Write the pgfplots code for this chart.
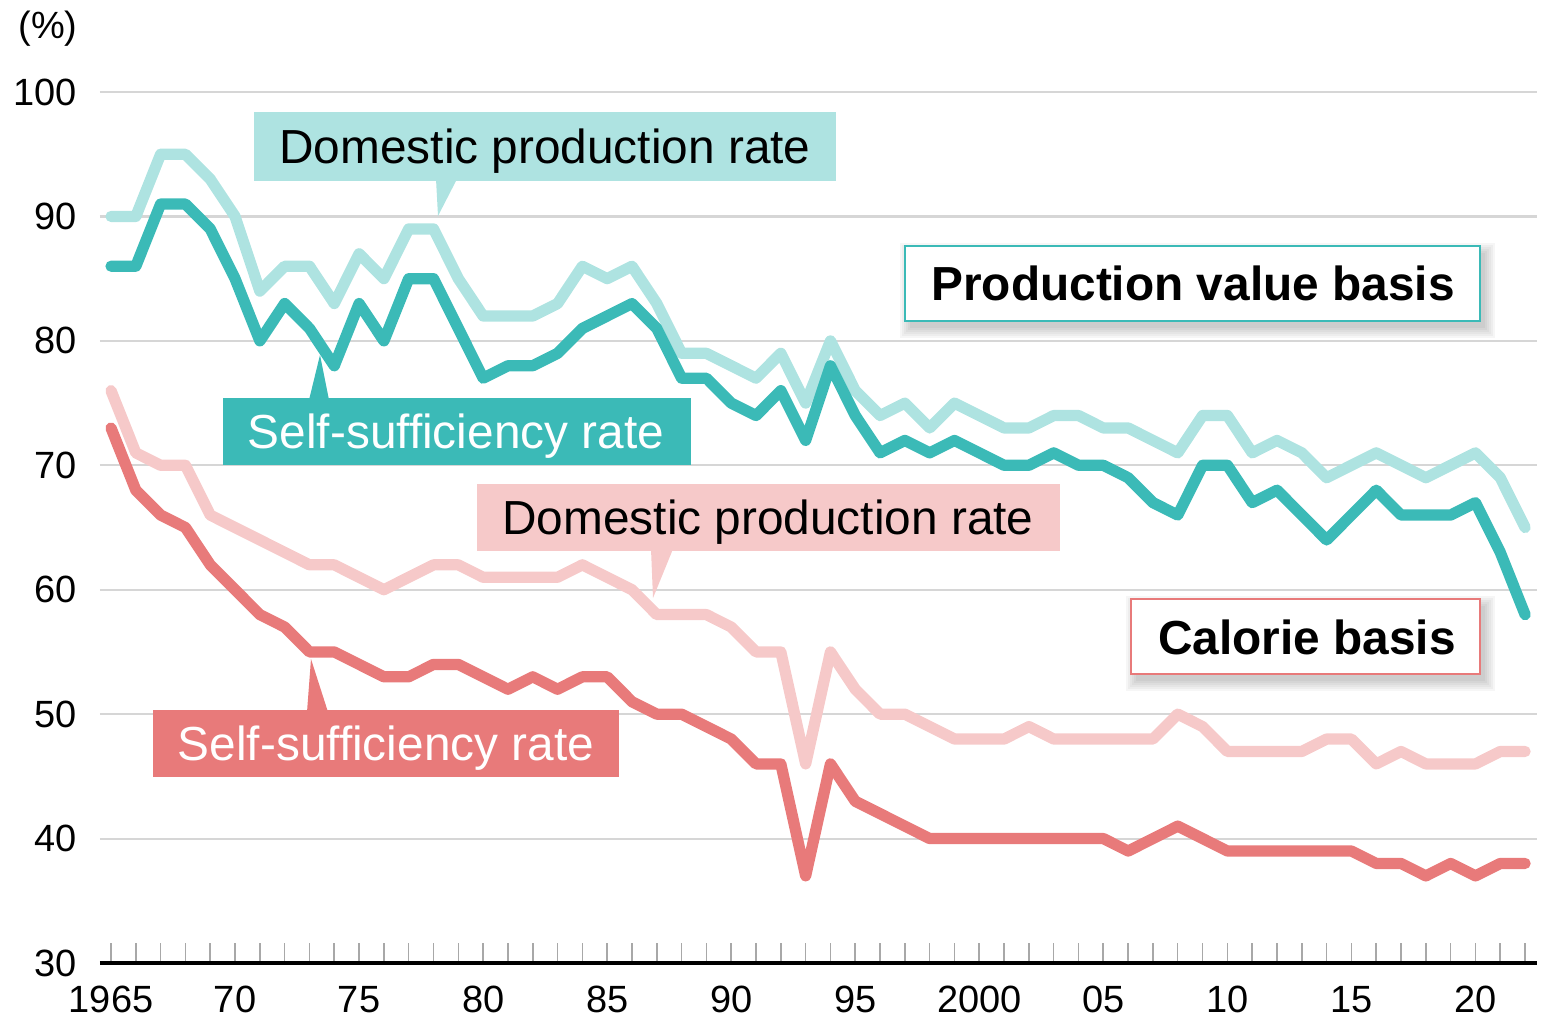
\documentclass[border=0pt]{standalone}
\usepackage{fontspec}
\setmainfont{Liberation Sans}
\usepackage{pgfplots}
\pgfplotsset{compat=1.18}

\definecolor{tealD}{HTML}{3BBAB7}
\definecolor{tealL}{HTML}{AEE3E1}
\definecolor{redD}{HTML}{E87A7A}
\definecolor{redL}{HTML}{F6C9C9}
\definecolor{gridc}{HTML}{D6D6D6}
\definecolor{tickc}{HTML}{A8A8A8}

\newcommand\lbl{\fontsize{13.6}{16}\selectfont}
% soft shadow behind a box, pixel coordinates
\newcommand\softshadow[4]{%
  \foreach \r in {0,2,...,10}{%
    \fill[black, opacity=0.035] (#1+5-\r,#2+7-\r) rectangle (#3+5+\r,#4+7+\r);}}

\begin{document}
\begin{tikzpicture}
\useasboundingbox (0,0) rectangle (155.2mm,102.1mm);
\begin{axis}[
  at={(10mm,5.8mm)}, anchor=south west,
  scale only axis, width=143.7mm, height=87.1mm,
  xmin=1964.556, xmax=2022.48, ymin=30, ymax=100,
  axis lines*=left,
  axis line style={-},
  x axis line style={-, black, line width=1.1pt},
  y axis line style={draw=none},
  ytick={30,40,...,100},
  ymajorgrids, grid style={draw=gridc, line width=0.6pt},
  ytick style={draw=none},
  xtick={1965,1970,...,2020},
  xticklabels={1965,70,75,80,85,90,95,2000,05,10,15,20},
  minor xtick={1966,...,2022},
  tick align=inside, major tick length=2mm, minor tick length=2mm,
  xtick style={draw=tickc, line width=0.45pt},
  minor tick style={draw=tickc, line width=0.45pt},
  /pgf/number format/assume math mode=true,
  ticklabel style={font=\fontsize{10.8}{13}\selectfont},
  xticklabel style={yshift=-1.1mm},
  yticklabel style={xshift=-1.1mm},
  clip=false,
]
% Domestic production rate, production value basis
\addplot[tealL, line width=3.2pt, line join=round, line cap=round] coordinates {
(1965,90)(1966,90)(1967,95)(1968,95)(1969,93)(1970,90)(1971,84)(1972,86)(1973,86)(1974,83)
(1975,87)(1976,85)(1977,89)(1978,89)(1979,85)(1980,82)(1981,82)(1982,82)(1983,83)(1984,86)
(1985,85)(1986,86)(1987,83)(1988,79)(1989,79)(1990,78)(1991,77)(1992,79)(1993,75)(1994,80)
(1995,76)(1996,74)(1997,75)(1998,73)(1999,75)(2000,74)(2001,73)(2002,73)(2003,74)(2004,74)
(2005,73)(2006,73)(2007,72)(2008,71)(2009,74)(2010,74)(2011,71)(2012,72)(2013,71)(2014,69)
(2015,70)(2016,71)(2017,70)(2018,69)(2019,70)(2020,71)(2021,69)(2022,65)};
% Self-sufficiency rate, production value basis
\addplot[tealD, line width=3.2pt, line join=round, line cap=round] coordinates {
(1965,86)(1966,86)(1967,91)(1968,91)(1969,89)(1970,85)(1971,80)(1972,83)(1973,81)(1974,78)
(1975,83)(1976,80)(1977,85)(1978,85)(1979,81)(1980,77)(1981,78)(1982,78)(1983,79)(1984,81)
(1985,82)(1986,83)(1987,81)(1988,77)(1989,77)(1990,75)(1991,74)(1992,76)(1993,72)(1994,78)
(1995,74)(1996,71)(1997,72)(1998,71)(1999,72)(2000,71)(2001,70)(2002,70)(2003,71)(2004,70)
(2005,70)(2006,69)(2007,67)(2008,66)(2009,70)(2010,70)(2011,67)(2012,68)(2013,66)(2014,64)
(2015,66)(2016,68)(2017,66)(2018,66)(2019,66)(2020,67)(2021,63)(2022,58)};
% Domestic production rate, calorie basis
\addplot[redL, line width=3.2pt, line join=round, line cap=round] coordinates {
(1965,76)(1966,71)(1967,70)(1968,70)(1969,66)(1970,65)(1971,64)(1972,63)(1973,62)(1974,62)
(1975,61)(1976,60)(1977,61)(1978,62)(1979,62)(1980,61)(1981,61)(1982,61)(1983,61)(1984,62)
(1985,61)(1986,60)(1987,58)(1988,58)(1989,58)(1990,57)(1991,55)(1992,55)(1993,46)(1994,55)
(1995,52)(1996,50)(1997,50)(1998,49)(1999,48)(2000,48)(2001,48)(2002,49)(2003,48)(2004,48)
(2005,48)(2006,48)(2007,48)(2008,50)(2009,49)(2010,47)(2011,47)(2012,47)(2013,47)(2014,48)
(2015,48)(2016,46)(2017,47)(2018,46)(2019,46)(2020,46)(2021,47)(2022,47)};
% Self-sufficiency rate, calorie basis
\addplot[redD, line width=3.2pt, line join=round, line cap=round] coordinates {
(1965,73)(1966,68)(1967,66)(1968,65)(1969,62)(1970,60)(1971,58)(1972,57)(1973,55)(1974,55)
(1975,54)(1976,53)(1977,53)(1978,54)(1979,54)(1980,53)(1981,52)(1982,53)(1983,52)(1984,53)
(1985,53)(1986,51)(1987,50)(1988,50)(1989,49)(1990,48)(1991,46)(1992,46)(1993,37)(1994,46)
(1995,43)(1996,42)(1997,41)(1998,40)(1999,40)(2000,40)(2001,40)(2002,40)(2003,40)(2004,40)
(2005,40)(2006,39)(2007,40)(2008,41)(2009,40)(2010,39)(2011,39)(2012,39)(2013,39)(2014,39)
(2015,39)(2016,38)(2017,38)(2018,37)(2019,38)(2020,37)(2021,38)(2022,38)};
\end{axis}

% annotations, in pixel units of the 1552x1021 frame (y downwards)
\begin{scope}[x=0.1mm, y=-0.1mm, yshift=102.1mm]
\node[font=\fontsize{10.8}{13}\selectfont, inner sep=0] at (48,29) {(\%)};

% Domestic production rate (production value)
\fill[tealL] (254,112) rectangle (836,181);
\fill[tealL] (436,179) -- (457,179) -- (438,216) -- cycle;
\node[anchor=base, font=\lbl, inner sep=0] at (545,164) {Domestic production rate};

% Production value basis
\softshadow{905}{246}{1480}{321}
\draw[tealD, line width=0.7pt, fill=white] (905,246) rectangle (1480,321);
\node[anchor=base, font=\lbl\bfseries, inner sep=0] at (1193,300) {Production value basis};

% Self-sufficiency rate (production value)
\fill[tealD] (223,398) rectangle (691,465);
\fill[tealD] (309,400) -- (329,400) -- (320,355) -- cycle;
\node[anchor=base, font=\lbl, text=white, inner sep=0] at (456,448) {Self-sufficiency rate};

% Domestic production rate (calorie)
\fill[redL] (477,484) rectangle (1060,551);
\fill[redL] (651,549) -- (673,549) -- (653,598) -- cycle;
\node[anchor=base, font=\lbl, inner sep=0] at (768,534) {Domestic production rate};

% Calorie basis
\softshadow{1131}{599}{1480}{674}
\draw[redD, line width=0.7pt, fill=white] (1131,599) rectangle (1480,674);
\node[anchor=base, font=\lbl\bfseries, inner sep=0] at (1307,654) {Calorie basis};

% Self-sufficiency rate (calorie)
\fill[redD] (153,710) rectangle (619,777);
\fill[redD] (307,712) -- (328,712) -- (311,659) -- cycle;
\node[anchor=base, font=\lbl, text=white, inner sep=0] at (386,760) {Self-sufficiency rate};
\end{scope}
\end{tikzpicture}
\end{document}
